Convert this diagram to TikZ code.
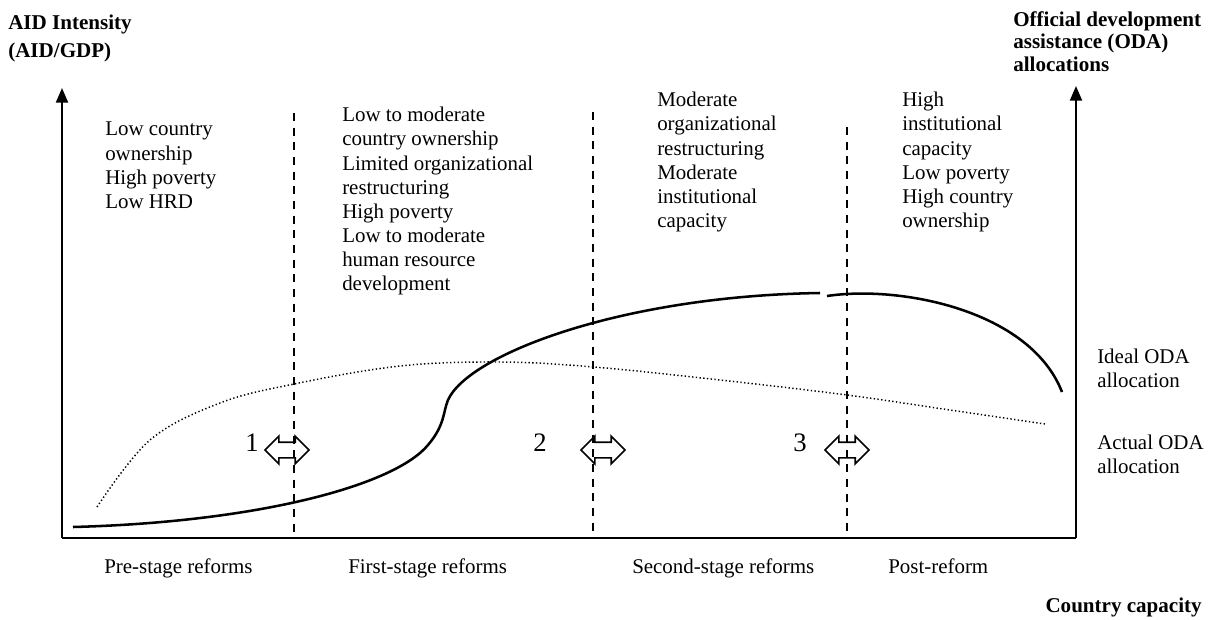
\documentclass[tikz,border=0pt]{standalone}
\usepackage{fontspec}
\setmainfont{Liberation Serif}
\usetikzlibrary{arrows.meta,shapes.arrows}

\begin{document}
\begin{tikzpicture}[x=0.75pt,y=-0.75pt]

      \useasboundingbox (0,0) rectangle (1215,619);

      % axes and stage borders
      \coordinate (o)    at (62,538);
      \coordinate (ytop) at (62,88);
      \coordinate (xend) at (1076,538);
      \coordinate (rtop) at (1076,86);
      \coordinate (d1t)  at (294,113);
      \coordinate (d1b)  at (294,536);
      \coordinate (d2t)  at (593,112);
      \coordinate (d2b)  at (593,536);
      \coordinate (d3t)  at (847,127);
      \coordinate (d3b)  at (847,538);

      \begin{scope}[line width=1.6pt]
        \draw[-{Triangle[length=11pt,width=9pt]}] (o) -- (ytop);
        \draw[-{Triangle[length=11pt,width=9pt]}] (xend) -- (rtop);
        \draw (o) -- (xend);
      \end{scope}

      \begin{scope}[line width=2pt,dash pattern=on 6pt off 5pt]
        \draw (d1t) -- (d1b);
        \draw (d2t) -- (d2b);
        \draw (d3t) -- (d3b);
      \end{scope}

      % ODA curves
      \draw[line width=1.9pt] (73,527) .. controls (260,522) and (395,485) .. (428,445)
        .. controls (445,425) and (443,412) .. (448,400)
        .. controls (468,355) and (620,296) .. (820,293);
      \draw[line width=1.9pt] (827,296) .. controls (900,285) and (1030,310) .. (1062,392);
      \draw[line width=1.1pt,dash pattern=on 1pt off 1.8pt] plot[smooth,tension=0.6] coordinates
        {(97,507) (150,440) (220,403) (294,384) (400,366) (500,362)
         (594,367) (720,380) (847,395) (950,410) (1045,424)};

      % reform transitions
      \begin{scope}[every node/.style={double arrow,draw,line width=1.3pt,
          inner xsep=0pt,inner ysep=5.25pt,minimum height=33pt,
          double arrow head extend=4.5pt}]
        \node (t1) at (287,450) {};
        \node (t2) at (603,450) {};
        \node (t3) at (847,450) {};
      \end{scope}

      \begin{scope}[every node/.style={font=\fontsize{20}{24}\selectfont}]
        \node (n1) at (252,443) {1};
        \node (n2) at (540,443) {2};
        \node (n3) at (800,443) {3};
      \end{scope}

      % stage features
      \begin{scope}[every node/.style={anchor=north west,inner sep=0pt,align=left,
          font=\fontsize{15.7}{18.1}\selectfont}]
        \node (f0) at (105,122) {Low country\\ownership\\High poverty\\Low HRD};
        \node (f1) at (342,107) {Low to moderate\\country ownership\\Limited organizational\\
          restructuring\\High poverty\\Low to moderate\\human resource\\development};
        \node (f2) at (657,92) {Moderate\\organizational\\restructuring\\Moderate\\
          institutional\\capacity};
        \node (f3) at (902,92) {High\\institutional\\capacity\\Low poverty\\High country\\ownership};
        \node (ideal)  at (1097,349) {Ideal ODA\\allocation};
        \node (actual) at (1097,435) {Actual ODA\\allocation};
      \end{scope}

      \begin{scope}[every node/.style={anchor=base west,inner sep=0pt,
          font=\fontsize{15.7}{18.1}\selectfont}]
        \node (s0) at (104,573) {Pre-stage reforms};
        \node (s1) at (348,573) {First-stage reforms};
        \node (s2) at (632,573) {Second-stage reforms};
        \node (s3) at (888,573) {Post-reform};
      \end{scope}

      % axis titles
      \begin{scope}[every node/.style={inner sep=0pt,align=left,
          font=\bfseries\fontsize{15.8}{16.9}\selectfont}]
        \node[anchor=north west] (ylab) at (8,15) {AID Intensity\\[4pt](AID/GDP)};
        \node[anchor=north west] (rlab) at (1013,11) {Official development\\assistance (ODA)\\allocations};
        \node[anchor=base east]  (xlab) at (1202,612) {Country capacity};
      \end{scope}

    \end{tikzpicture}
\end{document}
